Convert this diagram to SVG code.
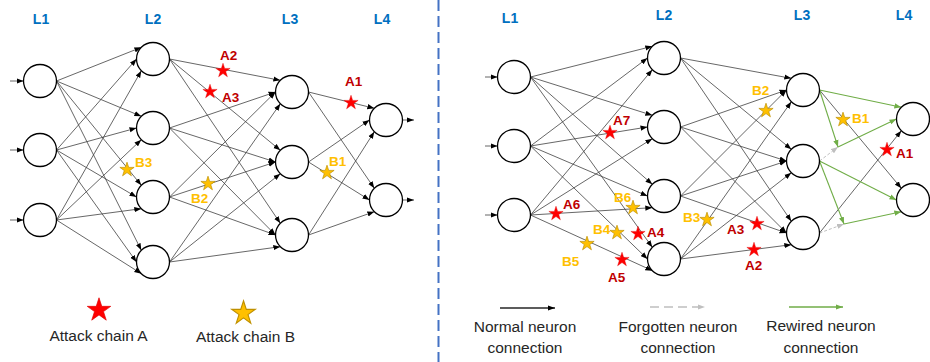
<svg xmlns="http://www.w3.org/2000/svg" xmlns:xlink="http://www.w3.org/1999/xlink" width="930" height="362" viewBox="0 0 930 362">
<style>
.e{stroke:#404040;stroke-width:0.8;fill:none;marker-end:url(#ah)}
.g{stroke:#70AD47;stroke-width:1.1;fill:none;marker-end:url(#ahg)}
.x{stroke:#BFBFBF;stroke-width:1;stroke-dasharray:3 2;fill:none;marker-end:url(#ahx)}
.n circle{fill:#fff;stroke:#000;stroke-width:1.3}
.lay{font:bold 14px "Liberation Sans",Arial,sans-serif;fill:#0070C0;text-anchor:middle}
.la{font:bold 13.5px "Liberation Sans",Arial,sans-serif;fill:#C00000}
.lb{font:bold 13.5px "Liberation Sans",Arial,sans-serif;fill:#FFC000}
.leg{font:15.5px "Liberation Sans",Arial,sans-serif;fill:#262626;text-anchor:middle}
.sa{fill:#FF0000;stroke:#E00000;stroke-width:0.4}
.sb{fill:#FFC000;stroke:#BF9000;stroke-width:0.7}
</style>
<defs>
<marker id="ah" markerUnits="userSpaceOnUse" markerWidth="7" markerHeight="6" refX="7" refY="3" orient="auto" viewBox="0 0 7 6"><path d="M0,0.4 L7,3 L0,5.6z" fill="#000"/></marker>
<marker id="ahg" markerUnits="userSpaceOnUse" markerWidth="7" markerHeight="6" refX="7" refY="3" orient="auto" viewBox="0 0 7 6"><path d="M0,0.4 L7,3 L0,5.6z" fill="#70AD47"/></marker>
<marker id="ahx" markerUnits="userSpaceOnUse" markerWidth="7" markerHeight="6" refX="7" refY="3" orient="auto" viewBox="0 0 7 6"><path d="M0,0.4 L7,3 L0,5.6z" fill="#BFBFBF"/></marker>
<path id="star" d="M0,-6.8 L1.684,-1.618 L7.133,-1.618 L2.725,1.585 L4.408,6.768 L0,3.565 L-4.408,6.768 L-2.725,1.585 L-7.133,-1.618 L-1.684,-1.618Z"/>
</defs>

<!-- divider -->
<line x1="438.5" y1="0" x2="438.5" y2="362" stroke="#4472C4" stroke-width="2" stroke-dasharray="11 5"/>

<!-- layer labels -->
<g id="layer-labels">
<text class="lay" x="41" y="24">L1</text>
<text class="lay" x="153" y="24">L2</text>
<text class="lay" x="290" y="24">L3</text>
<text class="lay" x="382" y="24">L4</text>
<text class="lay" x="510" y="23">L1</text>
<text class="lay" x="664" y="20">L2</text>
<text class="lay" x="802" y="20">L3</text>
<text class="lay" x="904" y="20">L4</text>
</g>

<g id="connectors">
<!-- left inputs / outputs -->
<line class="e" x1="10" y1="81" x2="23.5" y2="81"/>
<line class="e" x1="10" y1="150" x2="23.5" y2="150"/>
<line class="e" x1="10" y1="220" x2="23.5" y2="220"/>
<line class="e" x1="402.5" y1="120" x2="414" y2="120"/>
<line class="e" x1="402.5" y1="200" x2="414" y2="200"/>
<!-- left L1->L2 -->
<line class="e" x1="56.5" y1="81" x2="141.33" y2="47.33"/>
<line class="e" x1="56.5" y1="81" x2="141.33" y2="116.33"/>
<line class="e" x1="56.5" y1="81" x2="141.33" y2="185.33"/>
<line class="e" x1="56.5" y1="81" x2="141.33" y2="250.33"/>
<line class="e" x1="56.5" y1="150" x2="136.5" y2="59"/>
<line class="e" x1="56.5" y1="150" x2="136.5" y2="128"/>
<line class="e" x1="56.5" y1="150" x2="136.5" y2="197"/>
<line class="e" x1="56.5" y1="150" x2="136.5" y2="262"/>
<line class="e" x1="56.5" y1="220" x2="141.33" y2="70.67"/>
<line class="e" x1="56.5" y1="220" x2="141.33" y2="139.67"/>
<line class="e" x1="56.5" y1="220" x2="141.33" y2="208.67"/>
<line class="e" x1="56.5" y1="220" x2="141.33" y2="273.67"/>
<!-- left L2->L3 -->
<line class="e" x1="169.5" y1="59" x2="280.33" y2="80.33"/>
<line class="e" x1="169.5" y1="59" x2="280.33" y2="150.33"/>
<line class="e" x1="169.5" y1="59" x2="280.33" y2="223.33"/>
<line class="e" x1="169.5" y1="128" x2="275.5" y2="92"/>
<line class="e" x1="169.5" y1="128" x2="275.5" y2="162"/>
<line class="e" x1="169.5" y1="128" x2="275.5" y2="235"/>
<line class="e" x1="169.5" y1="197" x2="275.5" y2="92"/>
<line class="e" x1="169.5" y1="197" x2="275.5" y2="162"/>
<line class="e" x1="169.5" y1="197" x2="275.5" y2="235"/>
<line class="e" x1="169.5" y1="262" x2="280.33" y2="103.67"/>
<line class="e" x1="169.5" y1="262" x2="280.33" y2="173.67"/>
<line class="e" x1="169.5" y1="262" x2="280.33" y2="246.67"/>
<!-- left L3->L4 -->
<line class="e" x1="308.5" y1="92" x2="374.33" y2="108.33"/>
<line class="e" x1="308.5" y1="92" x2="374.33" y2="188.33"/>
<line class="e" x1="308.5" y1="162" x2="369.5" y2="120"/>
<line class="e" x1="308.5" y1="162" x2="369.5" y2="200"/>
<line class="e" x1="308.5" y1="235" x2="374.33" y2="131.67"/>
<line class="e" x1="308.5" y1="235" x2="374.33" y2="211.67"/>

<!-- right inputs -->
<line class="e" x1="485" y1="77" x2="497.5" y2="77"/>
<line class="e" x1="485" y1="146" x2="497.5" y2="146"/>
<line class="e" x1="485" y1="215" x2="497.5" y2="215"/>
<!-- right L1->L2 -->
<line class="e" x1="530.5" y1="77" x2="652.33" y2="46.33"/>
<line class="e" x1="530.5" y1="77" x2="652.33" y2="115.33"/>
<line class="e" x1="530.5" y1="77" x2="652.33" y2="184.33"/>
<line class="e" x1="530.5" y1="77" x2="652.33" y2="247.33"/>
<line class="e" x1="530.5" y1="146" x2="647.5" y2="58"/>
<line class="e" x1="530.5" y1="146" x2="647.5" y2="127"/>
<line class="e" x1="530.5" y1="146" x2="647.5" y2="196"/>
<line class="e" x1="530.5" y1="146" x2="647.5" y2="259"/>
<line class="e" x1="530.5" y1="215" x2="652.33" y2="69.67"/>
<line class="e" x1="530.5" y1="215" x2="652.33" y2="138.67"/>
<line class="e" x1="530.5" y1="215" x2="652.33" y2="207.67"/>
<line class="e" x1="530.5" y1="215" x2="652.33" y2="270.67"/>
<!-- right L2->L3 -->
<line class="e" x1="680.5" y1="58" x2="791.33" y2="78.33"/>
<line class="e" x1="680.5" y1="58" x2="791.33" y2="149.33"/>
<line class="e" x1="680.5" y1="58" x2="791.33" y2="221.33"/>
<line class="e" x1="680.5" y1="127" x2="786.5" y2="90"/>
<line class="e" x1="680.5" y1="127" x2="786.5" y2="161"/>
<line class="e" x1="680.5" y1="127" x2="786.5" y2="233"/>
<line class="e" x1="680.5" y1="196" x2="786.5" y2="90"/>
<line class="e" x1="680.5" y1="196" x2="786.5" y2="161"/>
<line class="e" x1="680.5" y1="196" x2="786.5" y2="233"/>
<line class="e" x1="680.5" y1="259" x2="791.33" y2="101.67"/>
<line class="e" x1="680.5" y1="259" x2="791.33" y2="172.67"/>
<line class="e" x1="680.5" y1="259" x2="791.33" y2="244.67"/>
<!-- right L3->L4 (normal, forgotten, rewired) -->
<line class="e" x1="819.5" y1="90" x2="901.33" y2="188.33"/>
<line class="e" x1="819.5" y1="233" x2="901.33" y2="130.67"/>
<line class="x" x1="819.5" y1="161" x2="838" y2="147"/>
<line class="x" x1="819.5" y1="233" x2="844" y2="224"/>
<line class="g" x1="819.5" y1="90" x2="901.33" y2="107.33"/>
<line class="g" x1="819.5" y1="90" x2="838" y2="147"/>
<line class="g" x1="838" y1="147" x2="896.5" y2="119"/>
<line class="g" x1="819.5" y1="161" x2="896.5" y2="200"/>
<line class="g" x1="819.5" y1="161" x2="844" y2="224"/>
<line class="g" x1="844" y1="224" x2="901.33" y2="211.67"/>
</g>

<!-- left network nodes -->
<g id="left-L1-1" class="n"><circle cx="40" cy="81" r="16.5"/></g>
<g id="left-L1-2" class="n"><circle cx="40" cy="150" r="16.5"/></g>
<g id="left-L1-3" class="n"><circle cx="40" cy="220" r="16.5"/></g>
<g id="left-L2-1" class="n"><circle cx="153" cy="59" r="16.5"/></g>
<g id="left-L2-2" class="n"><circle cx="153" cy="128" r="16.5"/></g>
<g id="left-L2-3" class="n"><circle cx="153" cy="197" r="16.5"/></g>
<g id="left-L2-4" class="n"><circle cx="153" cy="262" r="16.5"/></g>
<g id="left-L3-1" class="n"><circle cx="292" cy="92" r="16.5"/></g>
<g id="left-L3-2" class="n"><circle cx="292" cy="162" r="16.5"/></g>
<g id="left-L3-3" class="n"><circle cx="292" cy="235" r="16.5"/></g>
<g id="left-L4-1" class="n"><circle cx="386" cy="120" r="16.5"/></g>
<g id="left-L4-2" class="n"><circle cx="386" cy="200" r="16.5"/></g>

<!-- right network nodes -->
<g id="right-L1-1" class="n"><circle cx="514" cy="77" r="16.5"/></g>
<g id="right-L1-2" class="n"><circle cx="514" cy="146" r="16.5"/></g>
<g id="right-L1-3" class="n"><circle cx="514" cy="215" r="16.5"/></g>
<g id="right-L2-1" class="n"><circle cx="664" cy="58" r="16.5"/></g>
<g id="right-L2-2" class="n"><circle cx="664" cy="127" r="16.5"/></g>
<g id="right-L2-3" class="n"><circle cx="664" cy="196" r="16.5"/></g>
<g id="right-L2-4" class="n"><circle cx="664" cy="259" r="16.5"/></g>
<g id="right-L3-1" class="n"><circle cx="803" cy="90" r="16.5"/></g>
<g id="right-L3-2" class="n"><circle cx="803" cy="161" r="16.5"/></g>
<g id="right-L3-3" class="n"><circle cx="803" cy="233" r="16.5"/></g>
<g id="right-L4-1" class="n"><circle cx="913" cy="119" r="16.5"/></g>
<g id="right-L4-2" class="n"><circle cx="913" cy="200" r="16.5"/></g>

<!-- attack markers left -->
<g id="attacks-left">
<use href="#star" class="sa" x="223" y="70"/><text class="la" x="220" y="60">A2</text>
<use href="#star" class="sa" x="210" y="91"/><text class="la" x="222" y="102">A3</text>
<use href="#star" class="sa" x="351" y="102"/><text class="la" x="345" y="86">A1</text>
<use href="#star" class="sb" x="327" y="172"/><text class="lb" x="329" y="166">B1</text>
<use href="#star" class="sb" x="208" y="183"/><text class="lb" x="191" y="203">B2</text>
<use href="#star" class="sb" x="127" y="169"/><text class="lb" x="135" y="167">B3</text>
</g>

<!-- attack markers right -->
<g id="attacks-right">
<use href="#star" class="sa" x="610" y="132"/><text class="la" x="613" y="125">A7</text>
<use href="#star" class="sa" x="556" y="213"/><text class="la" x="563" y="209">A6</text>
<use href="#star" class="sb" x="633" y="207"/><text class="lb" x="614" y="202">B6</text>
<use href="#star" class="sb" x="617" y="232"/><text class="lb" x="593" y="234">B4</text>
<use href="#star" class="sa" x="638" y="233"/><text class="la" x="647" y="237">A4</text>
<use href="#star" class="sb" x="587" y="243"/><text class="lb" x="562" y="266">B5</text>
<use href="#star" class="sa" x="622" y="259"/><text class="la" x="608" y="282">A5</text>
<use href="#star" class="sb" x="766" y="110"/><text class="lb" x="752" y="95">B2</text>
<use href="#star" class="sb" x="707" y="219"/><text class="lb" x="683" y="222">B3</text>
<use href="#star" class="sa" x="757" y="223"/><text class="la" x="727" y="234">A3</text>
<use href="#star" class="sa" x="754" y="249"/><text class="la" x="745" y="270">A2</text>
<use href="#star" class="sb" x="843" y="119"/><text class="lb" x="852" y="123">B1</text>
<use href="#star" class="sa" x="887" y="149"/><text class="la" x="896" y="158">A1</text>
</g>

<!-- legends -->
<g id="legend-left">
<use href="#star" class="sa" transform="translate(99,309) scale(1.65)"/>
<text class="leg" x="98.5" y="341">Attack chain A</text>
<use href="#star" class="sb" transform="translate(243.5,312) scale(1.65)"/>
<text class="leg" x="245.5" y="342">Attack chain B</text>
</g>
<g id="legend-right">
<line x1="500" y1="308" x2="555" y2="308" stroke="#262626" stroke-width="1.5" marker-end="url(#ah)"/>
<text class="leg" x="525" y="332">Normal neuron</text>
<text class="leg" x="525" y="353">connection</text>
<line x1="650" y1="307" x2="705" y2="307" stroke="#BFBFBF" stroke-width="1.5" stroke-dasharray="9 5" marker-end="url(#ahx)"/>
<text class="leg" x="678" y="332">Forgotten neuron</text>
<text class="leg" x="678" y="353">connection</text>
<line x1="789" y1="307" x2="843" y2="307" stroke="#70AD47" stroke-width="1.5" marker-end="url(#ahg)"/>
<text class="leg" x="821" y="331">Rewired neuron</text>
<text class="leg" x="821" y="353">connection</text>
</g>
</svg>
